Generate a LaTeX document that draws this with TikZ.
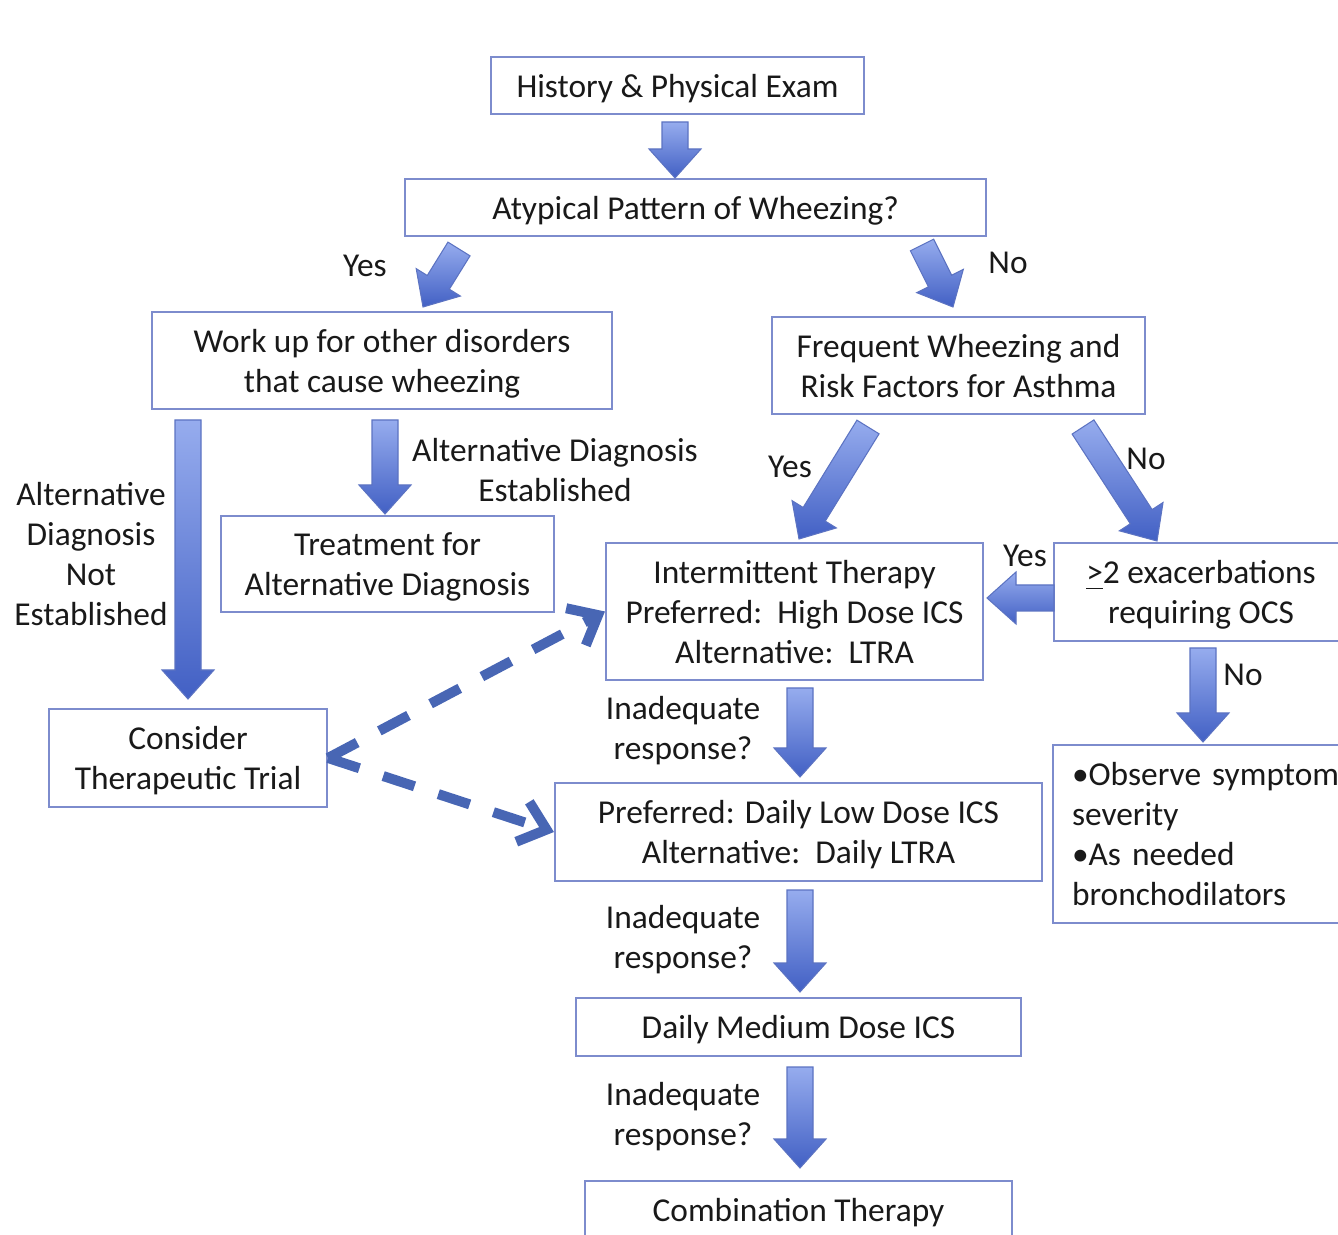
\documentclass[tikz,border=0pt]{standalone}
\usepackage{fontspec}
\setmainfont{Carlito}
\usetikzlibrary{arrows.meta, positioning, calc}
\definecolor{boxline}{RGB}{125, 140, 205}
\definecolor{arrowlight}{RGB}{150, 172, 238}
\definecolor{arrowdark}{RGB}{66, 96, 196}
\definecolor{arrowedge}{RGB}{92, 115, 194}
\definecolor{dashblue}{RGB}{72, 102, 180}
\definecolor{textcol}{RGB}{25, 25, 25}

\tikzset{
  box/.style={draw=boxline, line width=0.6pt, fill=white, inner sep=0pt, align=center, text=textcol, text depth=0pt},
  lbl/.style={text=textcol, align=center, inner sep=0pt},
  barrow/.style={draw=arrowedge, line width=0.3pt, top color=arrowlight, bottom color=arrowdark},
  dasharrow/.style={draw=dashblue, line width=1mm, dash pattern=on 3.3mm off 2.5mm,
    -{Straight Barb[length=2.5mm, width=4.2mm]}}
}

% block arrow from tail #1 to tip #2
\newcommand{\blockarrow}[2]{%
  \coordinate (ba-n) at ($(#2)!2.9mm!(#1)$);
  \draw[barrow] ($(#1)!1.3mm!90:(#2)$) -- ($(ba-n)!1.3mm!90:(#2)$) -- ($(ba-n)!2.6mm!90:(#2)$)
    -- (#2) -- ($(ba-n)!2.6mm!-90:(#2)$) -- ($(ba-n)!1.3mm!-90:(#2)$) -- ($(#1)!1.3mm!-90:(#2)$) -- cycle;
}

\begin{document}
\begin{tikzpicture}[x=0.1mm, y=-0.1mm, every node/.style={font=\fontsize{9.5}{11.4}\selectfont}]
  \useasboundingbox (0,0) rectangle (1338,1235);

  % Start of the chart
  \node[box, minimum width=37.3mm, minimum height=5.7mm] (hist) at (677.5,85.5) {History \& Physical Exam};
  \node[box, minimum width=58.1mm, minimum height=5.7mm] (atyp) at (695.5,207.5) {Atypical Pattern of Wheezing?};

  % Yes branch
  \node[box, minimum width=46mm, minimum height=9.7mm] (workup) at (382,360.5) {Work up for other disorders\\that cause wheezing};
  \node[box, minimum width=33.3mm, minimum height=9.6mm] (treat) at (387.5,564) {Treatment for\\Alternative Diagnosis};
  \node[box, minimum width=27.8mm, minimum height=9.8mm] (trial) at (188,758) {Consider\\Therapeutic Trial};

  % No branch
  \node[box, minimum width=37.3mm, minimum height=9.7mm] (freq) at (958.5,365.5) {Frequent Wheezing and\\Risk Factors for Asthma};
  \node[box, minimum width=29.4mm, minimum height=9.8mm] (exac) at (1201,592) {\underline{>}2 exacerbations\\requiring OCS};
  \node[box, text depth={}, text width=28mm, inner xsep=1.9mm, align=left, minimum height=17.8mm] (observe) at (1212,834)
    {\textbullet Observe symptom\\severity\\\textbullet As needed\\bronchodilators};

  % Treatment steps
  \node[box, minimum width=37.7mm, minimum height=13.7mm] (inter) at (794.5,611.5) {Intermittent Therapy\\Preferred:\ \ High Dose ICS\\Alternative:\ \ LTRA};
  \node[box, minimum width=48.7mm, minimum height=9.8mm] (daily) at (798.5,832) {Preferred: Daily Low Dose ICS\\Alternative:\ \ Daily LTRA};
  \node[box, minimum width=44.5mm, minimum height=5.8mm] (medium) at (798.5,1027) {Daily Medium Dose ICS};
  \node[box, minimum width=42.7mm, minimum height=5.8mm] (combo) at (798.5,1210) {Combination Therapy};

  % Labels
  \node[lbl] (yes1) at (365,266) {Yes};
  \node[lbl] (no1) at (1008,263) {No};
  \node[lbl] (notest) at (91,554) {Alternative\\Diagnosis\\Not\\Established};
  \node[lbl] (altest) at (555,470) {Alternative Diagnosis\\Established};
  \node[lbl] (yes2) at (790,467) {Yes};
  \node[lbl] (no2) at (1146,459) {No};
  \node[lbl] (yes3) at (1025,556) {Yes};
  \node[lbl] (no3) at (1243,675) {No};
  \foreach \y/\n in {731/inadA, 940/inadB, 1117/inadC}
    \node[lbl] (\n) at (683,\y) {Inadequate\\response?};

  % Arrow ends
  \coordinate (a1t) at (675,122);   \coordinate (a1h) at (675,178);
  \coordinate (a2t) at (459,249);   \coordinate (a2h) at (423,307);
  \coordinate (a3t) at (922,245);   \coordinate (a3h) at (953,307);
  \coordinate (a4t) at (188,420);   \coordinate (a4h) at (188,699);
  \coordinate (a5t) at (385,420);   \coordinate (a5h) at (385,514);
  \coordinate (a6t) at (868,427);   \coordinate (a6h) at (799,539);
  \coordinate (a7t) at (1083,427);  \coordinate (a7h) at (1157,541);
  \coordinate (a8t) at (1054,598);  \coordinate (a8h) at (987,598);
  \coordinate (a9t) at (1203,648);  \coordinate (a9h) at (1203,742);
  \coordinate (a10t) at (800,688);  \coordinate (a10h) at (800,777);
  \coordinate (a11t) at (800,890);  \coordinate (a11h) at (800,992);
  \coordinate (a12t) at (800,1067); \coordinate (a12h) at (800,1168);

  \foreach \i in {1,...,12}
    \blockarrow{a\i t}{a\i h};

  % Therapeutic trial
  \draw[dasharrow] (trial.east) -- (inter.west);
  \draw[dasharrow] (trial.east) -- (daily.west);
\end{tikzpicture}
\end{document}
